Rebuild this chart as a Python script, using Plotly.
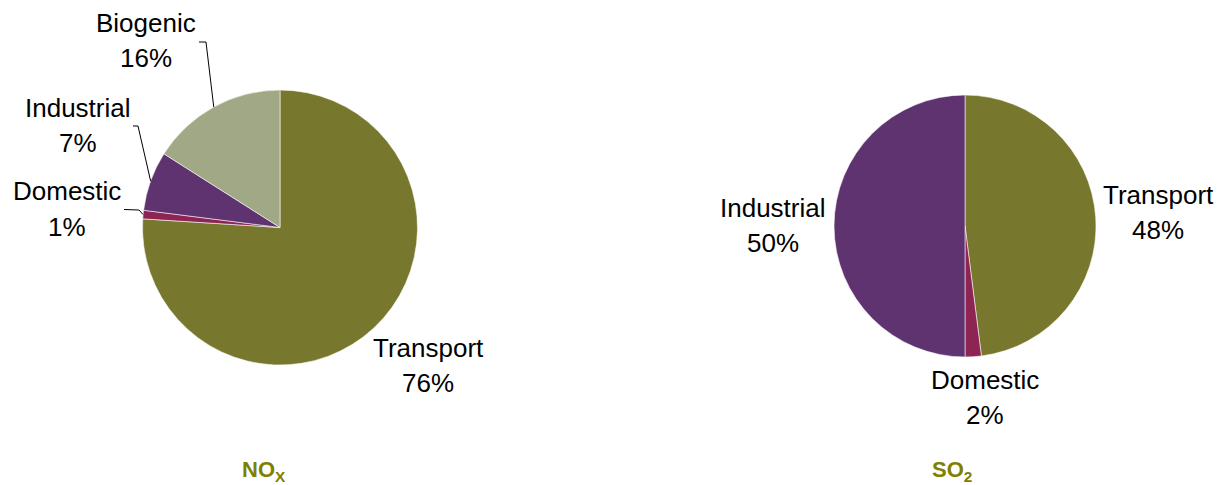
import math
import plotly.graph_objects as go

# Emission shares by source sector
nox_sources = ["Transport", "Domestic", "Industrial", "Biogenic"]
nox_shares = [76, 1, 7, 16]

so2_sources = ["Transport", "Domestic", "Industrial"]
so2_shares = [48, 2, 50]

sector_colors = {
    "Transport": "#77772D",
    "Domestic": "#8E2453",
    "Industrial": "#5E336F",
    "Biogenic": "#A0A886",
}

W, H = 1232, 485
LABEL_FONT = dict(family="Liberation Sans, Arial, sans-serif", size=26, color="#000000")
TITLE_FONT = dict(family="Liberation Sans, Arial, sans-serif", size=22, color="#808000")
LINE_GAP = 35  # spacing between the name line and the percentage line


def px(x):
    return x / W


def py(y):
    return 1 - y / H


# Pie placement (centre and radius, in pixels)
nox_pie = dict(cx=280, cy=227.5, r=137.5)
so2_pie = dict(cx=965, cy=226, r=131)


def domain(p):
    return dict(x=[px(p["cx"] - p["r"]), px(p["cx"] + p["r"])],
                y=[py(p["cy"] + p["r"]), py(p["cy"] - p["r"])])


def edge_point(p, values, idx):
    """Point on the rim at the middle of slice idx (clockwise from 12 o'clock)."""
    total = sum(values)
    start = sum(values[:idx]) / total
    mid = (start + values[idx] / total / 2) * 2 * math.pi
    return p["cx"] + p["r"] * math.sin(mid), p["cy"] - p["r"] * math.cos(mid)


fig = go.Figure()
for p, labels, vals in ((nox_pie, nox_sources, nox_shares), (so2_pie, so2_sources, so2_shares)):
    fig.add_trace(go.Pie(
        labels=labels,
        values=vals,
        sort=False,
        direction="clockwise",
        rotation=0,
        textinfo="none",
        hoverinfo="label+percent",
        marker=dict(colors=[sector_colors[s] for s in labels],
                    line=dict(color="rgba(255,255,255,0.7)", width=0.8)),
        domain=domain(p),
        showlegend=False,
    ))

# Slice labels: (labels, values, source, label centre x, name line centre y)
label_spots = [
    (nox_sources, nox_shares, "Biogenic", 146, 23),
    (nox_sources, nox_shares, "Industrial", 78, 107.5),
    (nox_sources, nox_shares, "Domestic", 67, 191.5),
    (nox_sources, nox_shares, "Transport", 428, 348),
    (so2_sources, so2_shares, "Industrial", 773, 207.5),
    (so2_sources, so2_shares, "Transport", 1158, 195),
    (so2_sources, so2_shares, "Domestic", 985, 380),
]

annotations = []
for labels, vals, name, lx, ly in label_spots:
    i = labels.index(name)
    for text, y in ((name, ly), (f"{vals[i]}%", ly + LINE_GAP)):
        annotations.append(dict(
            x=px(lx), y=py(y), xref="paper", yref="paper",
            text=text, showarrow=False,
            xanchor="center", yanchor="middle", align="center",
            font=LABEL_FONT,
        ))

# Leader lines for the small NOx slices: elbow points, then the slice rim
leaders = [
    ("Biogenic", [(199, 42), (206, 42)]),
    ("Industrial", [(133, 126), (138, 126)]),
    ("Domestic", [(124, 209.5), (139, 210)]),
]
shapes = []
for name, pts in leaders:
    ex, ey = edge_point(nox_pie, nox_shares, nox_sources.index(name))
    pts = pts + [(ex, ey)]
    path = "M " + " L ".join(f"{px(x):.5f},{py(y):.5f}" for x, y in pts)
    shapes.append(dict(type="path", xref="paper", yref="paper", path=path,
                       line=dict(color="#000000", width=1)))

# Pollutant titles
annotations.append(dict(x=px(264), y=py(471), xref="paper", yref="paper",
                        text="<b>NO<sub>X</sub></b>", showarrow=False,
                        xanchor="center", yanchor="middle", font=TITLE_FONT))
annotations.append(dict(x=px(952), y=py(471), xref="paper", yref="paper",
                        text="<b>SO<sub>2</sub></b>", showarrow=False,
                        xanchor="center", yanchor="middle", font=TITLE_FONT))

fig.update_layout(
    width=W, height=H,
    margin=dict(l=0, r=0, t=0, b=0),
    paper_bgcolor="#ffffff",
    plot_bgcolor="#ffffff",
    annotations=annotations,
    shapes=shapes,
)

fig.write_html("out.html")
